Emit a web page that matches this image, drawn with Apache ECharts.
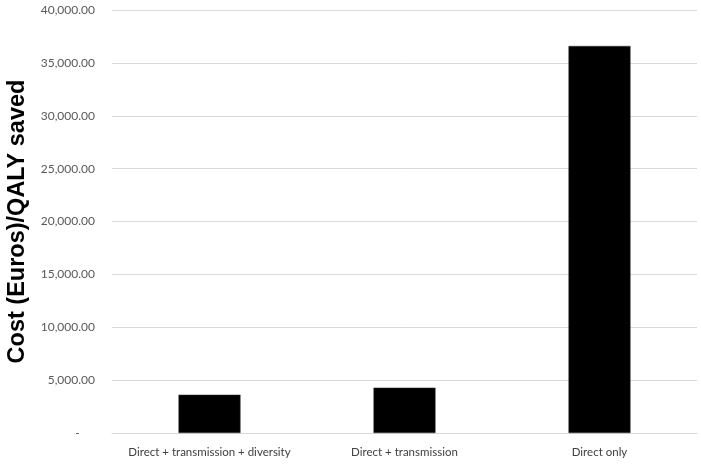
<!DOCTYPE html>
<html><head><meta charset="utf-8">
<script src="https://cdn.jsdelivr.net/npm/echarts@6/dist/echarts.min.js"></script>
<style>html,body{margin:0;padding:0;background:#fff}#c{width:701px;height:465px}</style>
</head><body><div id="c"></div>
<script>
const categories = ['Direct + transmission + diversity', 'Direct + transmission', 'Direct only'];
const values = [3620, 4290, 36600];
const yTicks = [0, 5000, 10000, 15000, 20000, 25000, 30000, 35000, 40000];
const yTitle = 'Cost (Euros)/QALY saved';

const chart = echarts.init(document.getElementById('c'));
chart.setOption({
  animation: false,
  grid: { left: 112, right: 4, top: 10, bottom: 32, containLabel: false, outerBoundsMode: 'none' },
  xAxis: {
    type: 'category', data: categories,
    axisLine: { show: true, lineStyle: { color: '#d9d9d9', width: 1 } },
    axisTick: { show: false },
    axisLabel: { interval: 0, color: '#404040', fontFamily: 'Lato', fontSize: 11.5, margin: 13 }
  },
  yAxis: {
    type: 'value', min: yTicks[0], max: yTicks[yTicks.length - 1], interval: 5000,
    name: yTitle, nameLocation: 'middle', nameGap: 81,
    nameTextStyle: { fontFamily: '"Liberation Sans", sans-serif', fontWeight: 'bold', fontSize: 23.5, color: '#000' },
    axisLine: { show: false }, axisTick: { show: false },
    splitLine: { lineStyle: { color: '#d9d9d9', width: 1 } },
    axisLabel: {
      color: '#595959', fontFamily: 'Lato', fontSize: 12, margin: 17,
      formatter: v => v === 0 ? '-     ' : v.toLocaleString('en-US', { minimumFractionDigits: 2, maximumFractionDigits: 2 })
    }
  },
  series: [{
    type: 'bar', data: values, barWidth: 62,
    itemStyle: { color: '#000', borderColor: '#333', borderWidth: 0.5 }
  }]
});
</script></body></html>
